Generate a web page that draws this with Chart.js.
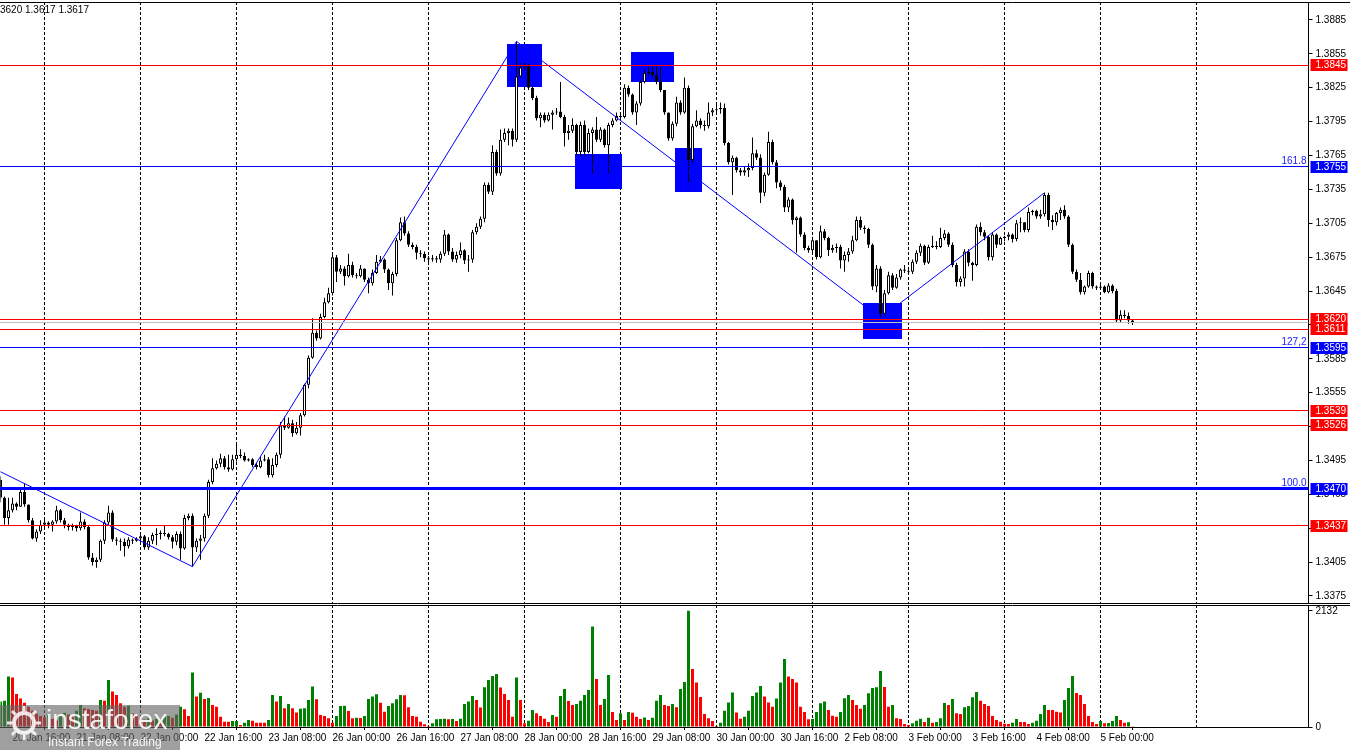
<!DOCTYPE html>
<html>
<head>
<meta charset="utf-8">
<script src="https://cdn.jsdelivr.net/npm/chart.js@4.4.1/dist/chart.umd.min.js"></script>
<style>
html, body { margin: 0; padding: 0; background: #fff; }
#wrap { position: relative; width: 1350px; height: 750px; overflow: hidden; }
#priceChart { position: absolute; left: 0; top: 0; }
#volChart { position: absolute; left: 0; top: 604px; }
</style>
</head>
<body>
<div id="wrap">
  <canvas id="priceChart" width="1350" height="604"></canvas>
  <canvas id="volChart" width="1350" height="146"></canvas>
</div>
<script>
// H1 bars, 20 Jan 13:00 .. 5 Feb 08:00 (open of each bar = close of the previous one)
const firstOpen = 1.3478;
const closes = [
  1.3462,1.3444,1.3451,1.3457,1.3454,1.3467,1.3456,1.3442,1.3426,1.3432,1.3438,1.3440,1.3438,1.3441,1.3451,1.3442,
  1.3438,1.3436,1.3437,1.3435,1.3441,1.3436,1.3409,1.3405,1.3407,1.3424,1.3440,1.3449,1.3425,1.3424,1.3423,1.3419,
  1.3425,1.3424,1.3426,1.3428,1.3418,1.3424,1.3429,1.3430,1.3431,1.3430,1.3427,1.3423,1.3430,1.3417,1.3444,1.3446,
  1.3418,1.3424,1.3426,1.3446,1.3476,1.3488,1.3492,1.3497,1.3489,1.3487,1.3496,1.3500,1.3499,1.3495,1.3496,1.3491,
  1.3489,1.3495,1.3496,1.3482,1.3491,1.3500,1.3526,1.3524,1.3528,1.3519,1.3524,1.3535,1.3562,1.3586,1.3608,1.3603,
  1.3622,1.3635,1.3643,1.3675,1.3662,1.3665,1.3658,1.3668,1.3659,1.3658,1.3665,1.3655,1.3652,1.3661,1.3671,1.3673,
  1.3664,1.3652,1.3660,1.3690,1.3706,1.3696,1.3686,1.3684,1.3679,1.3678,1.3674,1.3673,1.3674,1.3673,1.3678,1.3695,
  1.3680,1.3673,1.3677,1.3681,1.3672,1.3673,1.3697,1.3702,1.3709,1.3739,1.3733,1.3768,1.3749,1.3779,1.3785,1.3787,
  1.3779,1.3835,1.3843,1.3844,1.3825,1.3816,1.3798,1.3801,1.3796,1.3801,1.3803,1.3804,1.3799,1.3785,1.3787,1.3792,
  1.3768,1.3792,1.3768,1.3785,1.3788,1.3779,1.3788,1.3774,1.3792,1.3796,1.3800,1.3799,1.3825,1.3819,1.3803,1.3811,
  1.3830,1.3838,1.3839,1.3836,1.3830,1.3823,1.3803,1.3780,1.3793,1.3812,1.3803,1.3825,1.3761,1.3791,1.3796,1.3792,
  1.3791,1.3803,1.3805,1.3806,1.3807,1.3776,1.3759,1.3763,1.3752,1.3750,1.3752,1.3754,1.3767,1.3763,1.3732,1.3748,
  1.3777,1.3759,1.3741,1.3737,1.3719,1.3726,1.3708,1.3710,1.3695,1.3683,1.3681,1.3690,1.3675,1.3698,1.3692,1.3681,
  1.3683,1.3684,1.3672,1.3677,1.3680,1.3690,1.3708,1.3701,1.3700,1.3686,1.3649,1.3665,1.3625,1.3643,1.3659,1.3648,
  1.3657,1.3664,1.3663,1.3662,1.3671,1.3679,1.3685,1.3670,1.3684,1.3685,1.3684,1.3692,1.3696,1.3686,1.3668,1.3653,
  1.3656,1.3680,1.3670,1.3668,1.3702,1.3697,1.3693,1.3675,1.3695,1.3686,1.3692,1.3693,1.3695,1.3691,1.3705,1.3706,
  1.3699,1.3715,1.3716,1.3711,1.3713,1.3730,1.3708,1.3706,1.3714,1.3717,1.3711,1.3686,1.3662,1.3655,1.3644,1.3649,
  1.3661,1.3649,1.3648,1.3649,1.3644,1.3650,1.3645,1.3619,1.3624,1.3623,1.3619,1.3617
];
const highs = [
  1.3481,1.3463,1.3462,1.3462,1.3458,1.3471,1.3475,1.3456,1.3444,1.3434,1.3442,1.3444,1.3441,1.3442,1.3455,1.3452,
  1.3444,1.3439,1.3439,1.3438,1.3449,1.3443,1.3437,1.3413,1.3409,1.3425,1.3442,1.3455,1.3451,1.3427,1.3426,1.3426,
  1.3427,1.3426,1.3427,1.3429,1.3429,1.3427,1.3431,1.3435,1.3433,1.3437,1.3431,1.3429,1.3432,1.3432,1.3447,1.3448,
  1.3448,1.3426,1.3429,1.3448,1.3478,1.3497,1.3495,1.3501,1.3499,1.3500,1.3500,1.3509,1.3505,1.3502,1.3497,1.3497,
  1.3493,1.3498,1.3500,1.3498,1.3497,1.3502,1.3529,1.3534,1.3533,1.3531,1.3529,1.3537,1.3563,1.3588,1.3621,1.3610,
  1.3625,1.3639,1.3648,1.3679,1.3677,1.3668,1.3667,1.3678,1.3671,1.3661,1.3668,1.3665,1.3657,1.3664,1.3677,1.3676,
  1.3674,1.3665,1.3662,1.3692,1.3710,1.3711,1.3698,1.3688,1.3686,1.3681,1.3680,1.3676,1.3677,1.3676,1.3680,1.3699,
  1.3696,1.3683,1.3680,1.3688,1.3682,1.3677,1.3699,1.3705,1.3711,1.3741,1.3741,1.3774,1.3770,1.3788,1.3789,1.3789,
  1.3789,1.3866,1.3847,1.3847,1.3846,1.3827,1.3818,1.3803,1.3803,1.3803,1.3805,1.3807,1.3830,1.3801,1.3792,1.3798,
  1.3793,1.3795,1.3796,1.3789,1.3790,1.3799,1.3790,1.3789,1.3794,1.3798,1.3803,1.3802,1.3828,1.3827,1.3820,1.3813,
  1.3832,1.3841,1.3843,1.3844,1.3845,1.3843,1.3823,1.3803,1.3795,1.3817,1.3814,1.3834,1.3827,1.3793,1.3805,1.3798,
  1.3796,1.3812,1.3807,1.3811,1.3812,1.3811,1.3777,1.3765,1.3764,1.3754,1.3755,1.3758,1.3781,1.3770,1.3766,1.3750,
  1.3786,1.3779,1.3761,1.3743,1.3739,1.3728,1.3727,1.3711,1.3711,1.3697,1.3685,1.3693,1.3690,1.3703,1.3700,1.3693,
  1.3686,1.3687,1.3686,1.3680,1.3683,1.3694,1.3711,1.3711,1.3703,1.3701,1.3687,1.3668,1.3667,1.3646,1.3662,1.3661,
  1.3660,1.3665,1.3668,1.3665,1.3673,1.3681,1.3687,1.3686,1.3686,1.3694,1.3689,1.3701,1.3699,1.3697,1.3688,1.3670,
  1.3658,1.3682,1.3682,1.3671,1.3704,1.3706,1.3699,1.3694,1.3697,1.3696,1.3693,1.3694,1.3697,1.3696,1.3708,1.3710,
  1.3706,1.3719,1.3717,1.3717,1.3717,1.3732,1.3732,1.3712,1.3715,1.3719,1.3721,1.3712,1.3687,1.3664,1.3661,1.3650,
  1.3663,1.3662,1.3650,1.3651,1.3650,1.3652,1.3651,1.3647,1.3628,1.3628,1.3626,1.3620
];
const lows = [
  1.3458,1.3438,1.3438,1.3449,1.3451,1.3454,1.3454,1.3440,1.3425,1.3423,1.3430,1.3435,1.3435,1.3432,1.3439,1.3440,
  1.3435,1.3433,1.3433,1.3432,1.3433,1.3434,1.3407,1.3402,1.3400,1.3405,1.3421,1.3438,1.3423,1.3420,1.3415,1.3410,
  1.3417,1.3421,1.3423,1.3422,1.3416,1.3416,1.3421,1.3420,1.3425,1.3428,1.3425,1.3417,1.3420,1.3407,1.3416,1.3442,
  1.3401,1.3414,1.3407,1.3423,1.3444,1.3474,1.3487,1.3489,1.3487,1.3485,1.3486,1.3494,1.3497,1.3494,1.3494,1.3489,
  1.3487,1.3488,1.3494,1.3480,1.3480,1.3489,1.3497,1.3522,1.3523,1.3516,1.3518,1.3517,1.3534,1.3559,1.3585,1.3601,
  1.3602,1.3621,1.3634,1.3641,1.3653,1.3660,1.3650,1.3657,1.3657,1.3656,1.3657,1.3653,1.3643,1.3650,1.3660,1.3670,
  1.3661,1.3646,1.3641,1.3658,1.3689,1.3694,1.3684,1.3682,1.3673,1.3675,1.3671,1.3670,1.3671,1.3670,1.3670,1.3676,
  1.3677,1.3671,1.3670,1.3674,1.3669,1.3662,1.3670,1.3695,1.3700,1.3706,1.3731,1.3730,1.3747,1.3747,1.3777,1.3774,
  1.3773,1.3777,1.3834,1.3841,1.3823,1.3814,1.3796,1.3790,1.3794,1.3795,1.3788,1.3801,1.3798,1.3773,1.3779,1.3785,
  1.3765,1.3764,1.3765,1.3767,1.3749,1.3777,1.3777,1.3772,1.3749,1.3790,1.3795,1.3797,1.3798,1.3817,1.3801,1.3792,
  1.3809,1.3829,1.3835,1.3834,1.3828,1.3821,1.3801,1.3778,1.3778,1.3791,1.3801,1.3802,1.3741,1.3759,1.3790,1.3789,
  1.3787,1.3789,1.3800,1.3802,1.3802,1.3774,1.3757,1.3730,1.3750,1.3747,1.3747,1.3746,1.3752,1.3761,1.3723,1.3729,
  1.3747,1.3757,1.3736,1.3734,1.3715,1.3715,1.3704,1.3679,1.3693,1.3681,1.3679,1.3679,1.3673,1.3674,1.3690,1.3676,
  1.3679,1.3679,1.3665,1.3662,1.3671,1.3678,1.3689,1.3699,1.3696,1.3683,1.3646,1.3644,1.3621,1.3623,1.3642,1.3646,
  1.3647,1.3655,1.3661,1.3660,1.3660,1.3669,1.3676,1.3668,1.3669,1.3683,1.3682,1.3683,1.3690,1.3684,1.3666,1.3649,
  1.3649,1.3649,1.3667,1.3654,1.3667,1.3694,1.3690,1.3672,1.3672,1.3683,1.3686,1.3689,1.3690,1.3688,1.3689,1.3697,
  1.3697,1.3697,1.3712,1.3709,1.3709,1.3711,1.3702,1.3699,1.3703,1.3708,1.3709,1.3684,1.3660,1.3653,1.3642,1.3642,
  1.3648,1.3647,1.3646,1.3646,1.3643,1.3643,1.3643,1.3617,1.3617,1.3621,1.3616,1.3615
];
const volumes = [
  466,484,926,907,607,521,447,374,300,250,200,180,220,150,120,200,
  260,230,180,300,405,343,330,310,300,497,484,864,650,588,435,374,
  390,250,200,170,140,160,120,150,130,180,200,170,230,374,325,202,
  999,558,631,515,533,405,374,190,98,95,110,112,37,80,129,116,
  80,78,76,129,588,466,570,343,423,343,264,337,345,497,742,509,
  221,202,159,80,202,386,388,294,159,172,165,202,515,558,601,447,
  282,386,435,509,588,585,362,202,190,98,50,20,67,141,147,150,
  141,147,110,153,423,466,570,497,356,729,864,938,975,723,607,497,
  190,907,497,67,116,313,251,202,153,92,221,190,570,699,478,405,
  423,484,588,680,1845,883,405,515,956,276,129,251,129,276,260,190,
  147,175,129,172,484,586,405,386,423,362,699,827,2133,1066,816,552,
  239,159,110,18,80,300,448,632,264,153,190,300,570,632,754,558,
  448,374,521,815,1250,925,883,815,374,276,141,147,276,435,466,313,
  208,190,276,527,588,497,405,337,405,620,717,730,1030,736,374,405,
  160,147,55,37,67,116,153,92,172,80,92,159,441,405,515,251,
  239,362,386,546,644,484,423,386,202,129,98,61,55,80,147,92,
  90,55,80,116,239,405,313,310,282,264,497,717,938,625,588,423,
  202,92,55,110,67,72,110,202,129,80,86,6
];

// axis labels
const priceTicks = [1.3375,1.3405,1.3435,1.3465,1.3495,1.3525,1.3555,1.3585,1.3615,1.3645,1.3675,1.3705,1.3735,1.3765,1.3795,1.3825,1.3855,1.3885];
const volTicks = [0, 2132];
const timeTicks = ['20 Jan 16:00','21 Jan 08:00','22 Jan 00:00','22 Jan 16:00','23 Jan 08:00','26 Jan 00:00','26 Jan 16:00',
  '27 Jan 08:00','28 Jan 00:00','28 Jan 16:00','29 Jan 08:00','30 Jan 00:00','30 Jan 16:00','2 Feb 08:00','3 Feb 00:00',
  '3 Feb 16:00','4 Feb 08:00','5 Feb 00:00'];
const dayLines = ['21 Jan','22 Jan','23 Jan','26 Jan','27 Jan','28 Jan','29 Jan','30 Jan','2 Feb','3 Feb','4 Feb','5 Feb','6 Feb'];

// drawn objects
const redLevels = [1.3845, 1.3620, 1.3611, 1.3539, 1.3526, 1.3437];
const fibLevels = [1.3755, 1.3595, 1.3470];
const fibNames = ['161.8', '127,2', '100.0'];
const bidPrice = 1.3617;
const zigIndex = [0, 48, 129, 220, 261];
const zigPrice = [1.3485, 1.3401, 1.3866, 1.3621, 1.3732];
const boxFrom = [127, 144, 158, 169, 216];
const boxTo = [135, 155, 168, 175, 225];
const boxHigh = [1.3864, 1.3766, 1.3857, 1.3772, 1.3634];
const boxLow = [1.3826, 1.3735, 1.3830, 1.3733, 1.3602];

// hourly slots, weekends skipped, running past the last bar
const MONTHS = ['Jan','Feb','Mar','Apr','May','Jun','Jul','Aug','Sep','Oct','Nov','Dec'];
const N_SLOTS = 328;
const slots = [];
let t = Date.UTC(2026, 0, 20, 13);
while (slots.length < N_SLOTS) {
  const d = new Date(t);
  const wd = d.getUTCDay();
  if (wd !== 0 && wd !== 6) {
    slots.push(d.getUTCDate() + ' ' + MONTHS[d.getUTCMonth()] + ' ' + String(d.getUTCHours()).padStart(2, '0') + ':00');
  }
  t += 3600000;
}
const dayIdx = dayLines.map(dl => slots.indexOf(dl + ' 00:00')).filter(i => i >= 0);

const opens = closes.map((c, i) => i === 0 ? firstOpen : closes[i - 1]);
const wicks = closes.map((c, i) => [Math.min(lows[i], opens[i], c), Math.max(highs[i], opens[i], c)]);
const bodies = closes.map((c, i) => [opens[i], c]);
const bodyFill = closes.map((c, i) => c >= opens[i] ? '#ffffff' : '#000000');
const zigData = new Array(N_SLOTS).fill(null);
zigIndex.forEach((ix, k) => { zigData[ix] = zigPrice[k]; });
const volColors = volumes.map((v, i) => (i === 0 || v > volumes[i - 1]) ? '#008000' : '#ff0000');

Chart.defaults.font.family = '"Liberation Sans", Arial, sans-serif';
Chart.defaults.font.size = 10;
Chart.defaults.color = '#000';

const FONT = '10px "Liberation Sans", Arial, sans-serif';

function dayGrid(chart) {
  const { ctx, chartArea: a, scales: { x } } = chart;
  ctx.save();
  ctx.strokeStyle = '#000';
  ctx.lineWidth = 1;
  ctx.setLineDash([3, 2]);
  dayIdx.forEach(i => {
    const px = Math.floor(x.getPixelForValue(i)) + 0.5;
    ctx.beginPath();
    ctx.moveTo(px, a.top);
    ctx.lineTo(px, a.bottom);
    ctx.stroke();
  });
  ctx.restore();
}

// keep the plot area flush with the panel edges
function fixSide(s) {
  s.width = 41.5;
  s.paddingTop = 0;
  s.paddingBottom = 0;
}

const crisp = v => Math.round(v - 0.5) + 0.5;

const pricePlugin = {
  id: 'pricePlugin',
  beforeDraw(chart) {
    const { ctx } = chart;
    ctx.save();
    ctx.fillStyle = '#fff';
    ctx.fillRect(0, 0, chart.width, chart.height);
    ctx.restore();
  },
  beforeDatasetsDraw(chart) {
    const { ctx, scales: { x, y } } = chart;
    dayGrid(chart);
    ctx.save();
    ctx.fillStyle = '#0000ff';
    boxFrom.forEach((b, k) => {
      const x1 = x.getPixelForValue(b) - 1.5, x2 = x.getPixelForValue(boxTo[k]) + 1.5;
      const y1 = y.getPixelForValue(boxHigh[k]), y2 = y.getPixelForValue(boxLow[k]);
      ctx.fillRect(Math.round(x1), Math.round(y1), Math.round(x2 - x1), Math.round(y2 - y1));
    });
    ctx.restore();
  },
  afterDatasetsDraw(chart) {
    const { ctx, chartArea: a, scales: { y } } = chart;
    ctx.save();
    const hline = (p, color, w) => {
      let py = y.getPixelForValue(p);
      py = w % 2 ? crisp(py) : Math.round(py);
      ctx.strokeStyle = color;
      ctx.lineWidth = w;
      ctx.beginPath();
      ctx.moveTo(a.left - 1, py);
      ctx.lineTo(a.right, py);
      ctx.stroke();
    };
    hline(bidPrice, '#c0c0c0', 1);
    redLevels.forEach(p => hline(p, '#ff0000', 1));
    fibLevels.forEach((p, k) => hline(p, '#0000ff', k === 2 ? 3 : 1));
    ctx.font = FONT;
    ctx.fillStyle = '#2020ff';
    ctx.textAlign = 'right';
    ctx.textBaseline = 'alphabetic';
    fibLevels.forEach((p, k) => {
      ctx.fillText(fibNames[k], a.right - 2, Math.round(y.getPixelForValue(p)) - 3);
    });
    ctx.restore();
  },
  afterDraw(chart) {
    const { ctx, chartArea: a, scales: { y } } = chart;
    ctx.save();
    // frame
    ctx.strokeStyle = '#000';
    ctx.lineWidth = 1;
    ctx.beginPath();
    ctx.moveTo(0, a.top + 0.5); ctx.lineTo(chart.width, a.top + 0.5);
    ctx.moveTo(0, chart.height - 0.5); ctx.lineTo(chart.width, chart.height - 0.5);
    ctx.stroke();
    // price tags
    ctx.font = FONT;
    ctx.textAlign = 'left';
    ctx.textBaseline = 'middle';
    const tag = (p, color) => {
      const py = Math.round(y.getPixelForValue(p));
      ctx.fillStyle = color;
      ctx.fillRect(a.right + 2, py - 6, 37, 12);
      ctx.fillStyle = '#fff';
      ctx.fillText(p.toFixed(4), a.right + 7, py + 0.5);
    };
    redLevels.forEach(p => tag(p, '#ff0000'));
    fibLevels.forEach(p => tag(p, '#0000ff'));
    // symbol line, cut off at the left edge
    ctx.fillStyle = '#000';
    ctx.fillText('3620 1.3617 1.3617', 0, 10);
    ctx.restore();
  }
};

new Chart(document.getElementById('priceChart'), {
  type: 'bar',
  data: {
    labels: slots,
    datasets: [
      {
        type: 'line', data: zigData, spanGaps: true, borderColor: '#0000ff', borderWidth: 1,
        pointRadius: 0, fill: false, order: 0
      },
      {
        data: bodies, backgroundColor: bodyFill, borderColor: '#000', borderWidth: 1,
        borderSkipped: false, barThickness: 3, grouped: false, inflateAmount: 0, order: 1
      },
      {
        data: wicks, backgroundColor: '#000', borderWidth: 0, barThickness: 1,
        grouped: false, inflateAmount: 0, order: 2
      }
    ]
  },
  options: {
    responsive: false,
    animation: false,
    events: [],
    layout: { padding: { left: 0.5, top: 2, bottom: 1, right: 0 } },
    plugins: { legend: { display: false }, tooltip: { enabled: false } },
    scales: {
      x: { display: false, offset: false },
      y: {
        position: 'right',
        min: 1.33688,
        max: 1.39009,
        afterBuildTicks: s => { s.ticks = priceTicks.map(v => ({ value: v })); },
        afterFit: fixSide,
        ticks: { callback: v => Number(v).toFixed(4), padding: 3, color: '#000' },
        grid: { drawOnChartArea: false, drawTicks: true, tickLength: 4, color: '#000' },
        border: { display: true, color: '#000' }
      }
    }
  },
  plugins: [pricePlugin]
});

const volPlugin = {
  id: 'volPlugin',
  beforeDraw(chart) {
    const { ctx } = chart;
    ctx.save();
    ctx.fillStyle = '#fff';
    ctx.fillRect(0, 0, chart.width, chart.height);
    ctx.restore();
  },
  beforeDatasetsDraw(chart) { dayGrid(chart); },
  afterDraw(chart) {
    const { ctx, chartArea: a } = chart;
    ctx.save();
    ctx.strokeStyle = '#000';
    ctx.lineWidth = 1;
    ctx.beginPath();
    ctx.moveTo(0, a.top + 0.5); ctx.lineTo(chart.width, a.top + 0.5);
    ctx.stroke();
    // watermark
    const top = 101;
    ctx.fillStyle = 'rgba(100,100,100,0.62)';
    ctx.fillRect(0, top, 180, chart.height - top);
    ctx.strokeStyle = 'rgba(255,255,255,0.85)';
    ctx.lineWidth = 4;
    ctx.beginPath();
    ctx.arc(24, top + 18, 10, 0, Math.PI * 2);
    ctx.stroke();
    ctx.lineWidth = 3;
    for (let k = 0; k < 8; k++) {
      const ang = k * Math.PI / 4;
      ctx.beginPath();
      ctx.moveTo(24 + Math.cos(ang) * 12, top + 18 + Math.sin(ang) * 12);
      ctx.lineTo(24 + Math.cos(ang) * 17, top + 18 + Math.sin(ang) * 17);
      ctx.stroke();
    }
    ctx.fillStyle = 'rgba(255,255,255,0.9)';
    ctx.textAlign = 'left';
    ctx.textBaseline = 'alphabetic';
    ctx.font = '28px "Liberation Sans", Arial, sans-serif';
    ctx.fillText('instaforex', 46, top + 24);
    ctx.font = '12px "Liberation Sans", Arial, sans-serif';
    ctx.fillText('Instant Forex Trading', 48, top + 41);
    ctx.restore();
  }
};

new Chart(document.getElementById('volChart'), {
  type: 'bar',
  data: {
    labels: slots,
    datasets: [{
      data: volumes, backgroundColor: volColors, borderWidth: 0, barThickness: 3, inflateAmount: 0
    }]
  },
  options: {
    responsive: false,
    animation: false,
    events: [],
    layout: { padding: { left: 0.5, top: 1, bottom: 0, right: 0 } },
    plugins: { legend: { display: false }, tooltip: { enabled: false } },
    scales: {
      x: {
        offset: false,
        afterBuildTicks: s => { s.ticks = s.ticks.filter(tk => timeTicks.includes(slots[tk.value])); },
        afterFit: s => { s.height = 23; s.paddingLeft = 0; s.paddingRight = 0; },
        ticks: { autoSkip: false, maxRotation: 0, minRotation: 0, align: 'start', padding: 2, color: '#000' },
        grid: { drawOnChartArea: false, drawTicks: true, tickLength: 3, color: '#000' },
        border: { display: true, color: '#000' }
      },
      y: {
        position: 'right',
        min: 0,
        max: 2240,
        afterBuildTicks: s => { s.ticks = volTicks.map(v => ({ value: v })); },
        afterFit: fixSide,
        ticks: { callback: v => String(v), padding: 3, color: '#000' },
        grid: { drawOnChartArea: false, drawTicks: true, tickLength: 4, color: '#000' },
        border: { display: true, color: '#000' }
      }
    }
  },
  plugins: [volPlugin]
});
</script>
</body>
</html>
